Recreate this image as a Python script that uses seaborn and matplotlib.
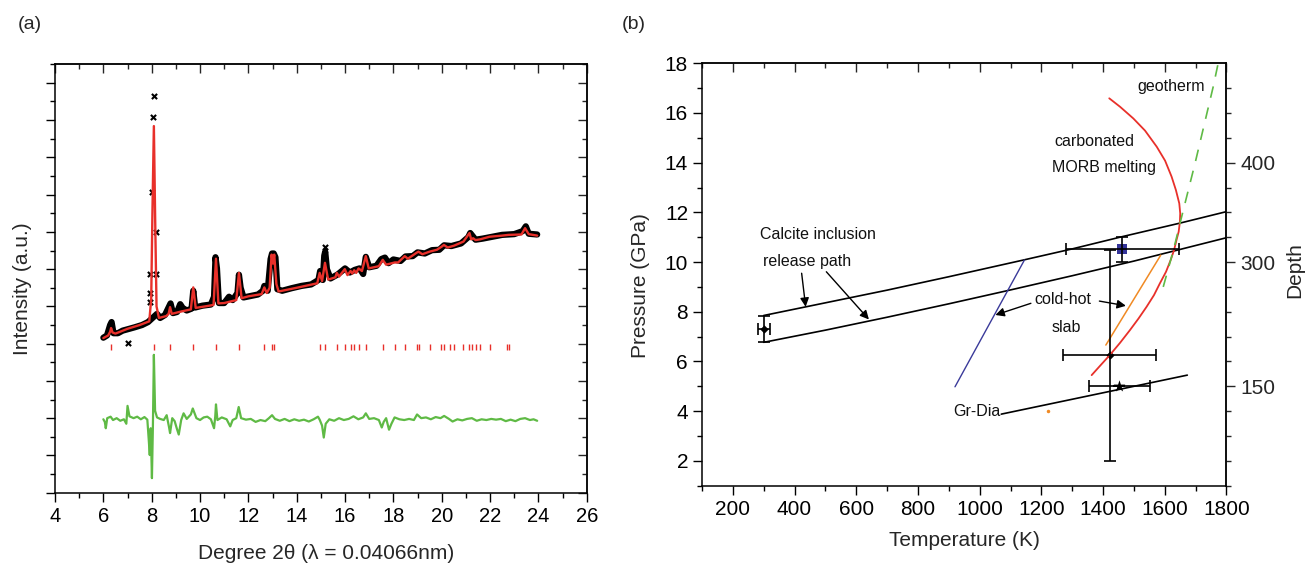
import seaborn as sns
import matplotlib.pyplot as plt
from matplotlib.ticker import MultipleLocator, FixedLocator

sns.set_style("ticks")
plt.rcParams['font.family'] = ['Liberation Sans', 'DejaVu Sans']

# ---------------- panel (a): diffraction pattern ----------------
calc_x = [6.00, 6.20, 6.28, 6.32, 6.38, 6.50, 7.00, 7.50, 7.90, 7.98, 8.03, 8.09, 8.14, 8.20,
          8.30, 8.60, 8.70, 8.76, 8.83, 9.20, 9.62, 9.72, 9.82, 10.30, 10.56, 10.66, 10.76,
          11.00, 11.50, 11.61, 11.72, 12.00, 12.55, 12.66, 12.76, 12.88, 12.96, 13.02, 13.07,
          13.16, 13.25, 14.00, 14.85, 14.95, 15.05, 15.17, 15.30, 15.60, 15.66, 15.75, 15.99,
          16.10, 16.23, 16.30, 16.38, 16.46, 16.56, 16.70, 16.86, 16.98, 17.40, 17.56, 17.70,
          18.06, 18.20, 18.47, 18.60, 18.96, 19.04, 19.20, 19.50, 19.80, 19.99, 20.09, 20.25,
          20.51, 20.90, 21.15, 21.22, 21.30, 21.40, 21.59, 21.98, 22.50, 22.76, 23.30, 23.45,
          23.60, 23.95]
calc_y = [4.15, 4.22, 4.32, 4.42, 4.30, 4.27, 4.40, 4.50, 4.60, 5.20, 7.50, 9.84, 7.50, 5.00,
          4.69, 4.74, 4.80, 4.98, 4.80, 4.86, 4.92, 5.51, 4.96, 5.01, 5.04, 6.28, 5.08,
          5.09, 5.17, 5.90, 5.22, 5.27, 5.33, 5.51, 5.36, 5.50, 6.39, 6.15, 6.39,
          5.60, 5.40, 5.50, 5.62, 5.90, 5.68, 6.17, 5.72, 5.78, 5.90, 5.80, 6.00,
          5.84, 5.95, 5.88, 5.97, 5.90, 6.02, 5.95, 6.35, 6.02, 6.08, 6.25, 6.12,
          6.18, 6.18, 6.35, 6.28, 6.44, 6.47, 6.40, 6.47, 6.52, 6.60, 6.65, 6.58,
          6.63, 6.74, 6.97, 6.80, 6.83, 6.78, 6.80, 6.87, 6.90, 6.92, 6.93, 7.10,
          6.94, 6.90]

obs_x = [6.00, 6.15, 6.28, 6.34, 6.42, 6.60, 6.80, 7.08, 7.30, 7.60, 7.85, 8.22,
         8.35, 8.55, 8.72, 8.78, 8.88, 9.05, 9.18, 9.28, 9.45, 9.65, 9.72, 9.80, 10.10, 10.45,
         10.58, 10.64, 10.70, 10.78, 11.00, 11.20, 11.35, 11.55, 11.61, 11.68, 11.80, 12.10,
         12.40, 12.60, 12.66, 12.80, 12.92, 12.98, 13.05, 13.12, 13.20, 13.40, 13.80, 14.20,
         14.60, 14.90, 14.97, 15.08, 15.14, 15.18, 15.25, 15.40, 15.70, 16.00, 16.20, 16.40,
         16.60, 16.75, 16.86, 17.00, 17.30, 17.50, 17.65, 17.80, 18.00, 18.30, 18.50, 18.80,
         19.00, 19.30, 19.60, 19.90, 20.10, 20.40, 20.80, 21.10, 21.18, 21.40, 21.70, 22.10,
         22.50, 23.00, 23.35, 23.48, 23.60, 23.95]
obs_y = [4.16, 4.22, 4.50, 4.58, 4.28, 4.28, 4.35, 4.40, 4.44, 4.50, 4.58, 4.80,
         4.69, 4.77, 5.00, 5.08, 4.82, 4.85, 5.06, 4.96, 4.89, 4.94, 5.42, 4.97, 5.02, 5.05,
         5.26, 6.32, 6.02, 5.09, 5.09, 5.26, 5.17, 5.36, 5.85, 5.50, 5.24, 5.28,
         5.32, 5.42, 5.55, 5.42, 6.27, 6.42, 6.42, 6.32, 5.46, 5.42, 5.49, 5.55,
         5.59, 5.71, 5.95, 5.71, 6.36, 6.47, 6.00, 5.75, 5.86, 6.02, 5.91, 5.98,
         6.02, 5.87, 6.33, 6.05, 6.09, 6.27, 6.31, 6.16, 6.26, 6.22, 6.34, 6.35,
         6.45, 6.42, 6.51, 6.52, 6.64, 6.62, 6.69, 6.86, 6.97, 6.79, 6.82, 6.87,
         6.92, 6.94, 7.02, 7.15, 6.95, 6.93]

# isolated observed points (strongest reflection and a low outlier)
spike_x = [8.10, 8.07, 8.02, 8.16, 7.95, 8.16, 7.92, 7.91, 7.00, 15.18]
spike_y = [10.65, 10.09, 8.07, 6.99, 5.88, 5.88, 5.36, 5.12, 4.03, 6.60]

bragg_pos = [6.32, 8.09, 8.76, 9.72, 10.66, 11.61, 12.66, 12.96, 13.07, 14.95, 15.17, 15.66,
             15.99, 16.23, 16.38, 16.56, 16.86, 17.56, 18.06, 18.47, 18.96, 19.04, 19.50,
             19.99, 20.09, 20.35, 20.51, 20.90, 21.15, 21.26, 21.40, 21.59, 21.98, 22.72, 22.80]
bragg_level = 3.9

diff_x = [6.00, 6.06, 6.10, 6.16, 6.30, 6.40, 6.55, 6.70, 6.85, 6.95, 7.00, 7.08, 7.25, 7.40,
          7.55, 7.70, 7.82, 7.88, 7.92, 7.96, 8.01, 8.05, 8.09, 8.14, 8.22, 8.35, 8.50, 8.62,
          8.72, 8.76, 8.85, 8.95, 9.05, 9.12, 9.22, 9.32, 9.45, 9.62, 9.70, 9.85, 10.00, 10.15,
          10.30, 10.45, 10.58, 10.63, 10.66, 10.72, 10.90, 11.10, 11.25, 11.35, 11.50, 11.60,
          11.70, 11.90, 12.10, 12.30, 12.50, 12.70, 12.85, 12.98, 13.10, 13.30, 13.50, 13.70,
          13.90, 14.10, 14.30, 14.50, 14.70, 14.88, 14.95, 15.05, 15.12, 15.20, 15.35, 15.55,
          15.75, 15.95, 16.15, 16.35, 16.55, 16.75, 16.86, 17.00, 17.20, 17.40, 17.52, 17.60,
          17.70, 17.82, 17.92, 18.05, 18.25, 18.45, 18.65, 18.85, 18.98, 19.15, 19.35, 19.55,
          19.75, 19.95, 20.10, 20.30, 20.45, 20.65, 20.85, 21.05, 21.25, 21.45, 21.65, 21.85,
          22.05, 22.25, 22.45, 22.65, 22.85, 23.05, 23.25, 23.45, 23.65, 23.80, 23.95]
diff_y = [1.97, 1.90, 1.73, 2.00, 2.04, 1.95, 2.00, 1.93, 1.97, 1.85, 2.33, 2.05, 2.00, 2.04,
          1.97, 2.03, 1.96, 1.40, 1.01, 1.73, 0.39, 1.80, 3.70, 2.20, 2.02, 1.98, 1.95, 2.08,
          1.75, 1.60, 2.00, 1.92, 1.70, 1.56, 1.95, 2.13, 1.98, 2.10, 2.26, 2.00, 1.95, 2.02,
          2.04, 1.97, 1.73, 2.05, 2.37, 1.95, 2.02, 1.97, 1.78, 1.95, 2.00, 2.30,
          2.00, 1.96, 1.98, 1.90, 1.95, 1.92, 2.00, 2.08, 1.98, 1.93, 1.98, 1.92,
          1.97, 1.93, 1.96, 1.91, 1.97, 2.04, 1.96, 1.80, 1.48, 1.85, 1.97, 1.93,
          2.00, 1.95, 1.98, 2.05, 1.97, 2.02, 2.13, 1.98, 2.00, 1.95, 1.75, 1.90,
          2.00, 1.69, 1.85, 2.02, 1.97, 1.95, 1.98, 1.95, 2.10, 2.00, 2.02, 1.97,
          2.03, 2.00, 2.06, 1.98, 1.91, 1.97, 1.94, 1.98, 2.00, 1.93, 1.97, 1.95,
          1.98, 1.96, 1.98, 1.92, 1.96, 1.92, 1.98, 2.00, 1.95, 1.97, 1.93]

# ---------------- panel (b): P-T diagram ----------------
upper_T = [300, 500, 700, 900, 1141, 1300, 1461, 1650, 1800]
upper_P = [7.85, 8.36, 8.87, 9.41, 10.08, 10.53, 11.02, 11.57, 12.03]
lower_T = [300, 500, 700, 900, 1090, 1300, 1500, 1650, 1800]
lower_P = [6.77, 7.26, 7.78, 8.32, 8.85, 9.45, 10.04, 10.51, 10.98]
blue_T = [920, 1145]
blue_P = [4.98, 10.08]
orange_T = [1409, 1587]
orange_P = [6.66, 10.28]
melt_T = [1420, 1455, 1498, 1536, 1574, 1601, 1622, 1636, 1647, 1650, 1649, 1645, 1638,
          1630, 1619, 1604, 1584, 1565, 1541, 1515, 1487, 1455, 1422, 1392, 1363]
melt_P = [16.59, 16.25, 15.78, 15.29, 14.64, 14.08, 13.44, 12.90, 12.36, 11.96, 11.62, 11.22,
          10.89, 10.48, 10.08, 9.61, 9.14, 8.67, 8.20, 7.73, 7.26, 6.75, 6.26, 5.85, 5.45]
geo_T = [1595, 1628, 1660, 1698, 1757, 1773]
geo_P = [9.00, 10.48, 12.09, 13.97, 17.06, 18.00]
grdia_T = [1070, 1673]
grdia_P = [3.88, 5.45]

# data points with error bars
pt_T = [300, 1462, 1422, 1453]
pt_P = [7.30, 10.51, 6.26, 5.01]
pt_Terr = [20, 183, 151, 100]
pt_Perr_lo = [0.53, 0.50, 4.26, 0.0]
pt_Perr_hi = [0.54, 0.51, 4.24, 0.0]

depth_pos = [5, 10, 14]
depth_labels = ['150', '300', '400']

red = '#e8302a'
green = '#5fba45'

fig = plt.figure(figsize=(13.07, 5.63), dpi=100)
ax_a = fig.add_axes([0.0421, 0.1249, 0.4068, 0.7610])
ax_b = fig.add_axes([0.5371, 0.1373, 0.4013, 0.7503])


def base_style(ax, size):
    for s in ax.spines.values():
        s.set_visible(True)
        s.set_linewidth(1.1)
        s.set_color('k')
    ax.tick_params(which='both', direction='out', width=1.0, colors='k',
                   top=False, right=False, labelsize=size)
    ax.tick_params(which='major', length=6.5)
    ax.tick_params(which='minor', length=3.5)


def sec_style(sec, side, direction, size):
    sec.spines[side].set_linewidth(1.1)
    sec.tick_params(which='both', direction=direction, width=1.0, labelsize=size)
    sec.tick_params(which='major', length=6.5)
    sec.tick_params(which='minor', length=3.5)


# ---- (a) ----
base_style(ax_a, 14.5)
sns.lineplot(x=obs_x, y=obs_y, ax=ax_a, color='k', linewidth=4.5, sort=False, estimator=None)
sns.scatterplot(x=spike_x, y=spike_y, ax=ax_a, color='k', marker='x', s=14, linewidth=1.5)
sns.lineplot(x=calc_x, y=calc_y, ax=ax_a, color=red, linewidth=1.7, sort=False, estimator=None)
sns.scatterplot(x=bragg_pos, y=[bragg_level] * len(bragg_pos), ax=ax_a, color=red,
                marker='|', s=24, linewidth=1.0)
sns.lineplot(x=diff_x, y=diff_y, ax=ax_a, color=green, linewidth=1.6, sort=False, estimator=None)

ax_a.set_xlim(4, 26)
ax_a.set_ylim(0, 11.5)
ax_a.xaxis.set_major_locator(MultipleLocator(2))
ax_a.xaxis.set_minor_locator(MultipleLocator(1))
ax_a.yaxis.set_major_locator(MultipleLocator(1))
ax_a.yaxis.set_minor_locator(MultipleLocator(0.5))
ax_a.set_yticklabels([])
ax_a.set_xlabel('Degree 2θ (λ = 0.04066nm)', fontsize=15)
ax_a.set_ylabel('Intensity (a.u.)', fontsize=15)
ax_a.xaxis.label.set_va('center')
ax_a.yaxis.label.set_va('center')
ax_a.xaxis.set_label_coords(0.509, -0.141)
ax_a.yaxis.set_label_coords(-0.062, 0.475)

top_a = ax_a.secondary_xaxis('top')
top_a.xaxis.set_major_locator(MultipleLocator(2))
top_a.xaxis.set_minor_locator(MultipleLocator(1))
top_a.set_xticklabels([])
sec_style(top_a, 'top', 'in', 14.5)
right_a = ax_a.secondary_yaxis('right')
right_a.yaxis.set_major_locator(MultipleLocator(1))
right_a.yaxis.set_minor_locator(MultipleLocator(0.5))
right_a.set_yticklabels([])
sec_style(right_a, 'right', 'in', 14.5)

# ---- (b) ----
base_style(ax_b, 15)
sns.lineplot(x=upper_T, y=upper_P, ax=ax_b, color='k', linewidth=1.2, sort=False, estimator=None)
sns.lineplot(x=lower_T, y=lower_P, ax=ax_b, color='k', linewidth=1.2, sort=False, estimator=None)
sns.lineplot(x=grdia_T, y=grdia_P, ax=ax_b, color='k', linewidth=1.2, sort=False, estimator=None)
sns.lineplot(x=blue_T, y=blue_P, ax=ax_b, color='#3a3a9a', linewidth=1.0, sort=False, estimator=None)
sns.lineplot(x=orange_T, y=orange_P, ax=ax_b, color='#f08a24', linewidth=1.1, sort=False, estimator=None)
sns.lineplot(x=melt_T, y=melt_P, ax=ax_b, color=red, linewidth=1.3, sort=False, estimator=None)
sns.lineplot(x=geo_T, y=geo_P, ax=ax_b, color=green, linewidth=1.2, sort=False, estimator=None,
             linestyle=(0, (7, 6)))
ax_b.plot([1221], [4.0], marker='o', markersize=1.5, color='#f08a24', linestyle='none')

ax_b.errorbar(pt_T, pt_P, xerr=pt_Terr, yerr=[pt_Perr_lo, pt_Perr_hi], fmt='none',
              ecolor='k', elinewidth=1.2, capsize=4, capthick=1.2)
sns.scatterplot(x=[pt_T[0], pt_T[2]], y=[pt_P[0], pt_P[2]], ax=ax_b, color='k', marker='D',
                s=18, linewidth=0)
sns.scatterplot(x=[pt_T[1]], y=[pt_P[1]], ax=ax_b, color='#34349a', marker='s', s=50, linewidth=0)
sns.scatterplot(x=[pt_T[3]], y=[pt_P[3]], ax=ax_b, color='k', marker='*', s=80, linewidth=0)

arrow = dict(arrowstyle='-|>', color='k', lw=1.0, mutation_scale=13, shrinkA=0, shrinkB=0)
ax_b.annotate('', xy=(436, 8.2), xytext=(423, 9.55), arrowprops=arrow)
ax_b.annotate('', xy=(641, 7.69), xytext=(503, 9.61), arrowprops=arrow)
ax_b.annotate('', xy=(1051, 7.87), xytext=(1166, 8.34), arrowprops=arrow)
ax_b.annotate('', xy=(1474, 8.24), xytext=(1388, 8.43), arrowprops=arrow)

txt = dict(fontsize=11.5, ha='left', va='center', color='#111111')
ax_b.text(1510, 17.06, 'geotherm', **txt)
ax_b.text(1241, 14.87, 'carbonated', **txt)
ax_b.text(1234, 13.80, 'MORB melting', **txt)
ax_b.text(289, 11.09, 'Calcite inclusion', **txt)
ax_b.text(298, 10.01, 'release path', **txt)
ax_b.text(1176, 8.51, 'cold-hot', **txt)
ax_b.text(1232, 7.36, 'slab', **txt)
ax_b.text(914, 3.97, 'Gr-Dia', **txt)

ax_b.set_xlim(100, 1800)
ax_b.set_ylim(1, 18)
ax_b.xaxis.set_major_locator(MultipleLocator(200))
ax_b.xaxis.set_minor_locator(MultipleLocator(100))
ax_b.yaxis.set_major_locator(MultipleLocator(2))
ax_b.yaxis.set_minor_locator(MultipleLocator(1))
ax_b.set_xlabel('Temperature (K)', fontsize=15)
ax_b.set_ylabel('Pressure (GPa)', fontsize=15)
ax_b.xaxis.label.set_va('center')
ax_b.yaxis.label.set_va('center')
ax_b.xaxis.set_label_coords(0.4995, -0.1286)
ax_b.yaxis.set_label_coords(-0.118, 0.473)

top_b = ax_b.secondary_xaxis('top')
top_b.xaxis.set_major_locator(MultipleLocator(200))
top_b.xaxis.set_minor_locator(MultipleLocator(100))
top_b.set_xticklabels([])
sec_style(top_b, 'top', 'in', 15)
right_b = ax_b.secondary_yaxis('right')
right_b.set_yticks(depth_pos, labels=depth_labels)
right_b.yaxis.set_minor_locator(FixedLocator([p for p in range(1, 18) if p not in depth_pos]))
sec_style(right_b, 'right', 'out', 15)

fig.text(1295 / 1307, 1 - 270 / 563, 'Depth', fontsize=15, rotation=90, va='center', ha='center')
fig.text(0.0136, 0.9567, '(a)', fontsize=14, va='center', ha='left')
fig.text(0.4760, 0.9567, '(b)', fontsize=14, va='center', ha='left')

plt.savefig('out.png', dpi=100)
plt.close()
